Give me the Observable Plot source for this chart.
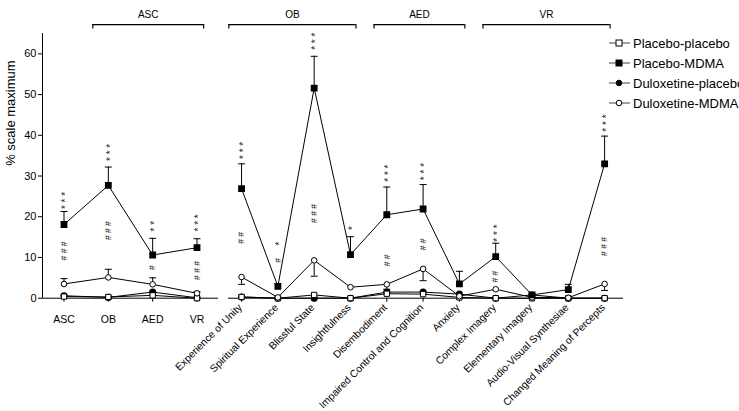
<!DOCTYPE html>
<html>
<head>
<meta charset="utf-8">
<script src="https://cdn.jsdelivr.net/npm/d3@7"></script>
<script src="https://cdn.jsdelivr.net/npm/@observablehq/plot@0.6"></script>
<style>
  body { margin: 0; background: #fff; }
  #chart { position: relative; width: 739px; height: 411px; overflow: hidden; background: #fff;
           font-family: "Liberation Sans", Arial, Helvetica, sans-serif; color: #000; }
  #left, #right, #legend { position: absolute; top: 0; }
  #left { left: 0; }
  #right { left: 225px; }
  #legend { left: 606px; top: 33px; font-size: 13px; white-space: nowrap; }
  #legend .row { height: 20px; display: flex; align-items: center; }
  #legend svg { margin-right: 2px; flex: none; }
</style>
</head>
<body>
<div id="chart">
  <div id="left"></div>
  <div id="right"></div>
  <div id="legend"></div>
</div>
<script>
// Global (composite) scales and their subscales
const globalScales = ["ASC", "OB", "AED", "VR"];
const subscales = [
  "Experience of Unity", "Spiritual Experience", "Blissful State", "Insightfulness",
  "Disembodiment", "Impaired Control and Cognition", "Anxiety",
  "Complex Imagery", "Elementary Imagery", "Audio-Visual Synthesiae", "Changed Meaning of Percepts"
];
const series = ["Placebo-placebo", "Placebo-MDMA", "Duloxetine-placebo", "Duloxetine-MDMA"];

// % of scale maximum, global scales first, then subscales
const placeboPlacebo    = [0.4, 0.3, 0.7, 0.0,   0.3, 0.0, 0.8, 0.0, 1.1, 1.0, 0.2, 0.0, 0.0, 0.0, 0.0];
const placeboMdma       = [18.1, 27.7, 10.6, 12.4, 26.9, 2.9, 51.6, 10.7, 20.5, 21.9, 3.5, 10.2, 0.8, 2.1, 33.0];
const duloxetinePlacebo = [0.6, 0.2, 1.5, 0.1,   0.3, 0.0, 0.0, 0.0, 1.5, 1.5, 1.0, 0.0, 0.8, 0.0, 0.0];
const duloxetineMdma    = [3.5, 5.1, 3.4, 1.2,   5.2, 0.2, 9.3, 2.7, 3.4, 7.2, 0.5, 2.2, 0.2, 0.1, 3.5];

// Ends of the SEM bars (drawn from the mean to this value)
const placeboMdmaSem    = [21.3, 32.2, 14.7, 14.6, 33.0, 3.6, 59.4, 15.1, 27.3, 27.9, 6.6, 13.5, 1.2, 3.4, 39.8];
const duloxetineMdmaSem = [4.8, 7.1, 5.0, 1.6,   3.4, 0.2, 5.4, 2.7, 2.2, 4.3, 0.5, 2.2, 0.2, 0.1, 1.9];

// Significance marks (* vs placebo, # vs duloxetine-MDMA) and the heights they sit at
const stars  = ["***", "***", "**", "***", "***", "*", "***", "*", "***", "***", "", "***", "", "", "***"];
const starY  = [24.0, 35.8, 17.7, 18.5, 36.3, 13.4, 63.1, 17.2, 30.7, 31.1, null, 16.0, null, null, 43.0];
const hashes = ["###", "###", "#", "###", "##", "#", "###", "", "##", "##", "", "##", "", "", "###"];
const hashY  = [11.6, 16.6, 7.5, 6.8, 14.8, 9.3, 20.8, null, 9.3, 13.2, null, 5.3, null, null, 12.7];

// Brackets grouping scales under their composite
const bracketLabels = ["ASC", "OB", "AED", "VR"];
const bracketFrom   = ["OB", "Experience of Unity", "Disembodiment", "Complex Imagery"];
const bracketTo     = ["VR", "Insightfulness", "Anxiety", "Changed Meaning of Percepts"];

const font = `"Liberation Sans", Arial, Helvetica, sans-serif`;
const values = [placeboPlacebo, placeboMdma, duloxetinePlacebo, duloxetineMdma];
const sems = [null, placeboMdmaSem, null, duloxetineMdmaSem];
const allScales = [...globalScales, ...subscales];

const rows = [];
const notes = [];
allScales.forEach((scale, k) => {
  const panel = k < globalScales.length ? 0 : 1;
  const i = panel ? k - globalScales.length : k;
  series.forEach((s, j) => {
    rows.push({scale, panel, i, series: s, value: values[j][k], sem: sems[j] ? sems[j][k] : null});
  });
  // symbols are stacked vertically: written along a rotated line
  notes.push({panel, i, stars: stars[k].split("").join(" "), starY: starY[k],
              hashes: hashes[k].split("").join(" "), hashY: hashY[k]});
});

const brackets = bracketLabels.map((label, b) => {
  const inLeft = globalScales.includes(bracketFrom[b]);
  const names = inLeft ? globalScales : subscales;
  return {label, panel: inLeft ? 0 : 1, from: names.indexOf(bracketFrom[b]), to: names.indexOf(bracketTo[b])};
});

// Horizontal cap for the error bars
const cap = {draw(context) { context.moveTo(-3.5, 0); context.lineTo(3.5, 0); }};

const bracketY = 67.2, bracketDrop = 1.1, bracketText = 69.7;
const extL = 0.35, extR = 0.15;

function panelMarks(panel) {
  const data = rows.filter(d => d.panel === panel);
  const errs = data.filter(d => d.sem != null && d.sem !== d.value);
  const ann = notes.filter(d => d.panel === panel);
  const br = brackets.filter(d => d.panel === panel);
  const of = s => data.filter(d => d.series === s);
  return [
    Plot.ruleY([0], {stroke: "black", strokeWidth: 1}),
    Plot.lineY(data, {x: "i", y: "value", z: "series", stroke: "black", strokeWidth: 1}),
    Plot.ruleX(errs, {x: "i", y1: "value", y2: "sem", stroke: "black", strokeWidth: 1}),
    Plot.dot(errs, {x: "i", y: "sem", symbol: cap, fill: "none", stroke: "black", strokeWidth: 1}),
    Plot.dot(of("Duloxetine-placebo"), {x: "i", y: "value", symbol: "circle", r: 2.8, fill: "black", stroke: "black"}),
    Plot.dot(of("Placebo-placebo"), {x: "i", y: "value", symbol: "square", r: 3, fill: "white", stroke: "black", strokeWidth: 1}),
    Plot.dot(of("Duloxetine-MDMA"), {x: "i", y: "value", symbol: "circle", r: 2.8, fill: "white", stroke: "black", strokeWidth: 1}),
    Plot.dot(of("Placebo-MDMA"), {x: "i", y: "value", symbol: "square", r: 3, fill: "black", stroke: "black"}),
    Plot.text(ann.filter(d => d.starY != null), {x: "i", y: "starY", text: "stars", rotate: -90,
                                                 fontSize: 10, dx: 2, fill: "#222"}),
    Plot.text(ann.filter(d => d.hashY != null), {x: "i", y: "hashY", text: "hashes", rotate: -90,
                                                 fontSize: 8.5, fill: "#222"}),
    // brackets
    Plot.ruleY(br, {x1: d => d.from - extL, x2: d => d.to + extR, y: () => bracketY, stroke: "black", strokeWidth: 1.2}),
    Plot.ruleX(br, {x: d => d.from - extL, y1: () => bracketY - bracketDrop, y2: () => bracketY, stroke: "black", strokeWidth: 1.2}),
    Plot.ruleX(br, {x: d => d.to + extR, y1: () => bracketY - bracketDrop, y2: () => bracketY, stroke: "black", strokeWidth: 1.2}),
    Plot.text(br, {x: d => (d.from - extL + d.to + extR) / 2, y: () => bracketText, text: "label", fontSize: 10})
  ];
}

const common = {
  height: 411, marginTop: 33, marginBottom: 113.3,
  y: {domain: [0, 65], axis: null},
  style: {fontFamily: font, fontSize: "11px", background: "transparent", color: "black", overflow: "visible"}
};

const left = Plot.plot({
  ...common,
  width: 225, marginLeft: 42, marginRight: 7,
  x: {type: "linear", domain: [-0.485, 3.485]},
  marks: [
    Plot.ruleX([-0.485], {stroke: "black", strokeWidth: 1}),
    Plot.axisY({ticks: d3.range(0, 61, 10), tickSize: 4, tickPadding: 2, label: null, fontSize: 11}),
    Plot.axisX({ticks: d3.range(globalScales.length), tickFormat: i => globalScales[i], tickSize: 4,
                tickPadding: 13, label: null, fontSize: 10.5}),
    Plot.text(["% scale maximum"], {frameAnchor: "left", rotate: -90, dx: -32, fontSize: 13}),
    ...panelMarks(0)
  ]
});

const right = Plot.plot({
  ...common,
  width: 514, marginLeft: 3, marginRight: 116,
  x: {type: "linear", domain: [-0.36, 10.52]},
  marks: [
    Plot.axisX({ticks: d3.range(subscales.length), tickFormat: () => "", tickSize: 4, label: null}),
    Plot.text(subscales, {x: (d, i) => i, frameAnchor: "bottom", rotate: -45, textAnchor: "end",
                          dy: 10, dx: 1, fontSize: 10.3}),
    ...panelMarks(1)
  ]
});

document.getElementById("left").append(left);
document.getElementById("right").append(right);

// Legend
const legendSymbol = {
  "Placebo-placebo": `<rect x="10" y="3" width="6" height="6" fill="white" stroke="black"/>`,
  "Placebo-MDMA": `<rect x="10" y="3" width="6" height="6" fill="black" stroke="black"/>`,
  "Duloxetine-placebo": `<circle cx="13" cy="6" r="2.8" fill="black" stroke="black"/>`,
  "Duloxetine-MDMA": `<circle cx="13" cy="6" r="2.8" fill="white" stroke="black"/>`
};
const legend = document.getElementById("legend");
series.forEach(s => {
  const row = document.createElement("div");
  row.className = "row";
  row.innerHTML = `<svg width="25" height="12"><line x1="3" x2="24" y1="6" y2="6" stroke="#444" stroke-width="1"/>${legendSymbol[s]}</svg><span>${s}</span>`;
  legend.append(row);
});
</script>
</body>
</html>
